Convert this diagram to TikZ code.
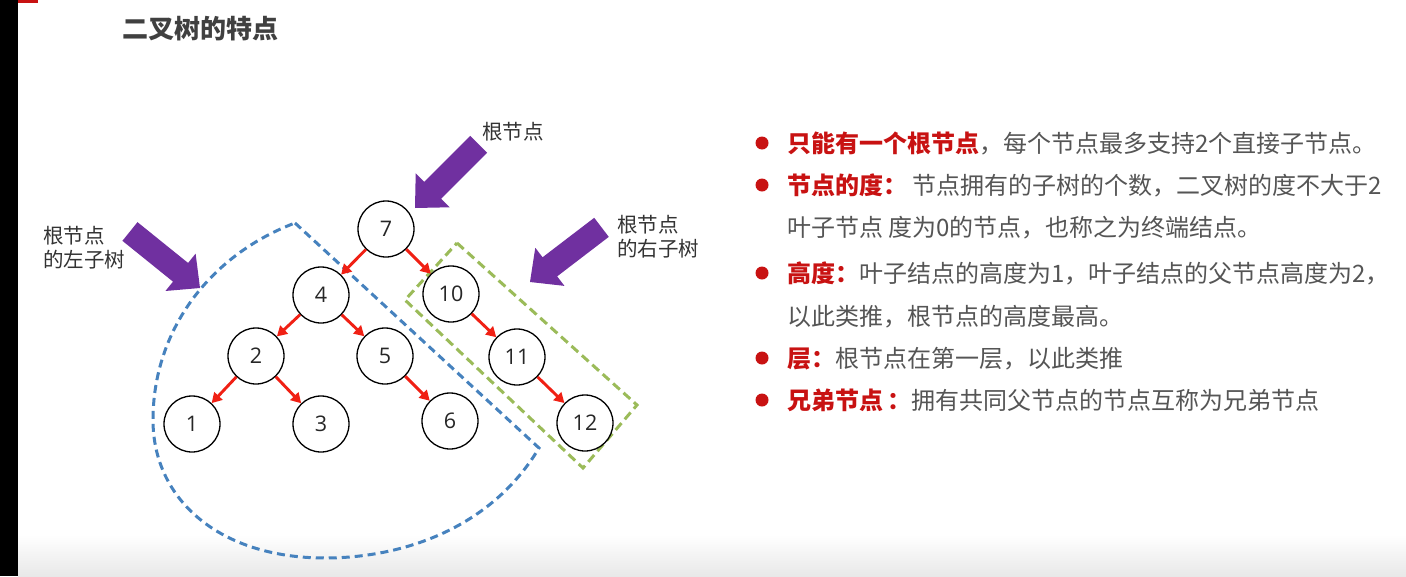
\documentclass[tikz,border=0pt]{standalone}
\usepackage{fontspec}
\usetikzlibrary{arrows.meta,calc,positioning}
\newfontfamily\cjk{Noto Sans CJK SC}
\newfontfamily\numfont{Open Sans}
\definecolor{txtgray}{RGB}{85,85,85}
\definecolor{titlegray}{RGB}{64,64,64}
\definecolor{hlred}{RGB}{200,18,18}
\definecolor{edgered}{RGB}{240,32,20}
\definecolor{arrpurple}{RGB}{112,48,160}
\definecolor{leftblue}{RGB}{70,130,190}
\definecolor{rightgreen}{RGB}{155,187,89}
\newcommand\hl[1]{\textcolor{hlred}{\bfseries #1}}

\tikzset{
  tnode/.style={circle,draw=black,line width=1.3pt,fill=white,minimum size=56pt,
    inner sep=0pt,text=black!85,font=\numfont\fontsize{21.5}{21.5}\selectfont},
  tedge/.style={edgered,line width=2.9pt,-{Triangle[length=10pt,width=11pt]}},
  label/.style={inner sep=0pt,text=black!80,align=left,
    font=\cjk\fontsize{20.5}{24}\selectfont},
  point/.style={anchor=base west,inner sep=0pt,text=txtgray,
    font=\cjk\fontsize{24}{24}\selectfont}
}

\begin{document}
\begin{tikzpicture}[x=1pt,y=-1pt]
  \useasboundingbox (0,0) rectangle (1406,576);
  % page
  \fill[white] (0,0) rectangle (1406,576);
  \shade[top color=white,bottom color=black!9] (18,535) rectangle (1406,576);
  \fill[black] (0,0) rectangle (18,576);
  \fill[hlred] (18,0) rectangle (38,3);
  \node[anchor=base west,inner sep=0pt,text=titlegray,
    font=\cjk\fontsize{26}{26}\selectfont\bfseries] (title) at (122,38) {二叉树的特点};

  % subtrees
  \draw[leftblue,line width=3pt,dash pattern=on 8pt off 5pt]
    (295,223) -- (539,448) .. controls (490,530) and (400,558) .. (325,558)
    .. controls (220,558) and (153,500) .. (153,420)
    .. controls (153,330) and (210,255) .. cycle;
  \draw[rightgreen,line width=3pt,dash pattern=on 9pt off 5pt]
    (457,243) -- (637,405) -- (583,468) -- (405,300) -- cycle;

  % tree
  \node[tnode] (n7) at (386,229) {7};
  \node[tnode] (n4) at (321,295) {4};
  \node[tnode] (n10) at (451,294) {10};
  \node[tnode] (n2) at (256,356) {2};
  \node[tnode] (n5) at (385,356) {5};
  \node[tnode] (n11) at (517,357) {11};
  \node[tnode] (n1) at (192,424) {1};
  \node[tnode] (n3) at (321,424) {3};
  \node[tnode] (n6) at (450,421) {6};
  \node[tnode] (n12) at (585,423) {12};
  \foreach \a/\b in {7/4,7/10,4/2,4/5,2/1,2/3,5/6,10/11,11/12}
    \draw[tedge] (n\a) -- (n\b);

  % pointers
  \foreach \tx/\ty/\ang in {415/208/-135, 200/288/-38.9, 530/282/-142.6}{
    \fill[arrpurple,shift={(\tx,\ty)},rotate=\ang]
      (0,0) -- (-25,24) -- (-25,12) -- (-90,12) -- (-90,-12) -- (-25,-12) -- (-25,-24) -- cycle;}
  \node[label,anchor=west] (rootlbl) at (482,132) {根节点};
  \node[label,anchor=west] (leftlbl) at (43,248) {根节点\\的左子树};
  \node[label,anchor=west] (rightlbl) at (617,237) {根节点\\的右子树};

  % properties
  \foreach \y in {143,185,273,358,400}
    \fill[hlred] (762,\y) circle (6.5);
  \node[point] (p1) at (787,152) {\hl{只能有一个根节点}，每个节点最多支持2个直接子节点。};
  \node[point] (p2) at (787,194) {\hl{节点的度：}\hspace{5pt}节点拥有的子树的个数，二叉树的度不大于2};
  \node[point] (p3) at (787,236) {叶子节点 度为0的节点，也称之为终端结点。};
  \node[point] (p4) at (787,282) {\hl{高度：}叶子结点的高度为1，叶子结点的父节点高度为2，};
  \node[point] (p5) at (787,325) {以此类推，根节点的高度最高。};
  \node[point] (p6) at (787,367) {\hl{层：}根节点在第一层，以此类推};
  \node[point] (p7) at (787,409) {\hl{兄弟节点\,：}拥有共同父节点的节点互称为兄弟节点};
\end{tikzpicture}
\end{document}
